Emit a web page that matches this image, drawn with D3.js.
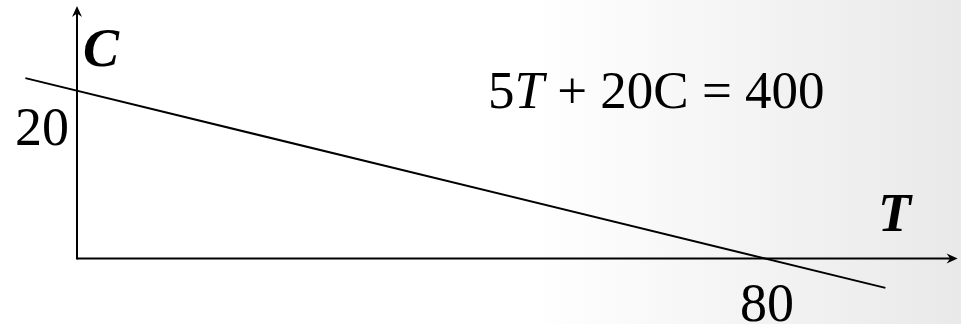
<!DOCTYPE html>
<html>
<head>
<meta charset="utf-8">
<script src="https://cdn.jsdelivr.net/npm/d3@7"></script>
<style>
  html, body { margin: 0; padding: 0; background: #fff; }
  svg { display: block; }
  text { font-family: "Liberation Serif", "Times New Roman", serif; fill: #000; }
</style>
</head>
<body>
<svg id="chart" width="961" height="324"></svg>
<script>
// Budget line 5T + 20C = 400, drawn over the visible T range
const lineT = [-6, 94];
const lineC = [21.5, -3.5];

// Intercept tick labels
const tickT = [80];
const tickC = [20];

// How far each axis arrow reaches, in data units
const axisTMax = 102.4;
const axisCMax = 30.1;

const equationText = ["5", "T", " + 20C = 400"];

const svg = d3.select("#chart");
const W = 961, H = 324;

// Soft grey fade toward the right edge
const defs = svg.append("defs");
const grad = defs.append("linearGradient").attr("id", "bg")
  .attr("x1", "0").attr("y1", "0").attr("x2", "1").attr("y2", "0");
grad.append("stop").attr("offset", "0.55").attr("stop-color", "#ffffff");
grad.append("stop").attr("offset", "1").attr("stop-color", "#e9e9e9");
svg.append("rect").attr("width", W).attr("height", H).attr("fill", "url(#bg)");

const x = d3.scaleLinear().domain([0, 80]).range([77, 765]);
const y = d3.scaleLinear().domain([0, 20]).range([258.5, 90.7]);

// Axes with arrowheads
function arrowHead(tx, ty, angle) {
  const g = svg.append("g").attr("transform", `translate(${tx},${ty}) rotate(${angle})`);
  g.append("path").attr("d", "M0,0 L-11,-5 L-7.5,0 L-11,5 Z").attr("fill", "#000");
}
svg.append("line")
  .attr("x1", x(0)).attr("y1", y(0)).attr("x2", x(axisTMax) - 6).attr("y2", y(0))
  .attr("stroke", "#000").attr("stroke-width", 2);
arrowHead(x(axisTMax), y(0), 0);
svg.append("line")
  .attr("x1", x(0)).attr("y1", y(0) + 1).attr("x2", x(0)).attr("y2", y(axisCMax) + 6)
  .attr("stroke", "#000").attr("stroke-width", 2);
arrowHead(x(0), y(axisCMax), -90);

// The constraint line
const pts = lineT.map((t, i) => [t, lineC[i]]);
svg.append("path")
  .datum(pts)
  .attr("d", d3.line().x(d => x(d[0])).y(d => y(d[1])))
  .attr("fill", "none").attr("stroke", "#000").attr("stroke-width", 2);

// Axis names
svg.append("text").attr("x", 83).attr("y", 66)
  .attr("font-size", 54).attr("font-weight", "bold").attr("font-style", "italic")
  .text("C");
svg.append("text").attr("x", 878).attr("y", 231)
  .attr("font-size", 54).attr("font-weight", "bold").attr("font-style", "italic")
  .text("T");

// Intercept labels
svg.selectAll(".tc").data(tickC).enter().append("text")
  .attr("class", "tc")
  .attr("x", x(0) - 8).attr("y", d => y(d) + 54)
  .attr("text-anchor", "end").attr("font-size", 54)
  .text(d => d);
svg.selectAll(".tt").data(tickT).enter().append("text")
  .attr("class", "tt")
  .attr("x", d => x(d) + 2).attr("y", y(0) + 62.5)
  .attr("text-anchor", "middle").attr("font-size", 54)
  .text(d => d);

// Equation
const eq = svg.append("text").attr("x", 488).attr("y", 108).attr("font-size", 53);
eq.append("tspan").text(equationText[0]);
eq.append("tspan").attr("font-style", "italic").text(equationText[1]);
eq.append("tspan").text(equationText[2]);
</script>
</body>
</html>
